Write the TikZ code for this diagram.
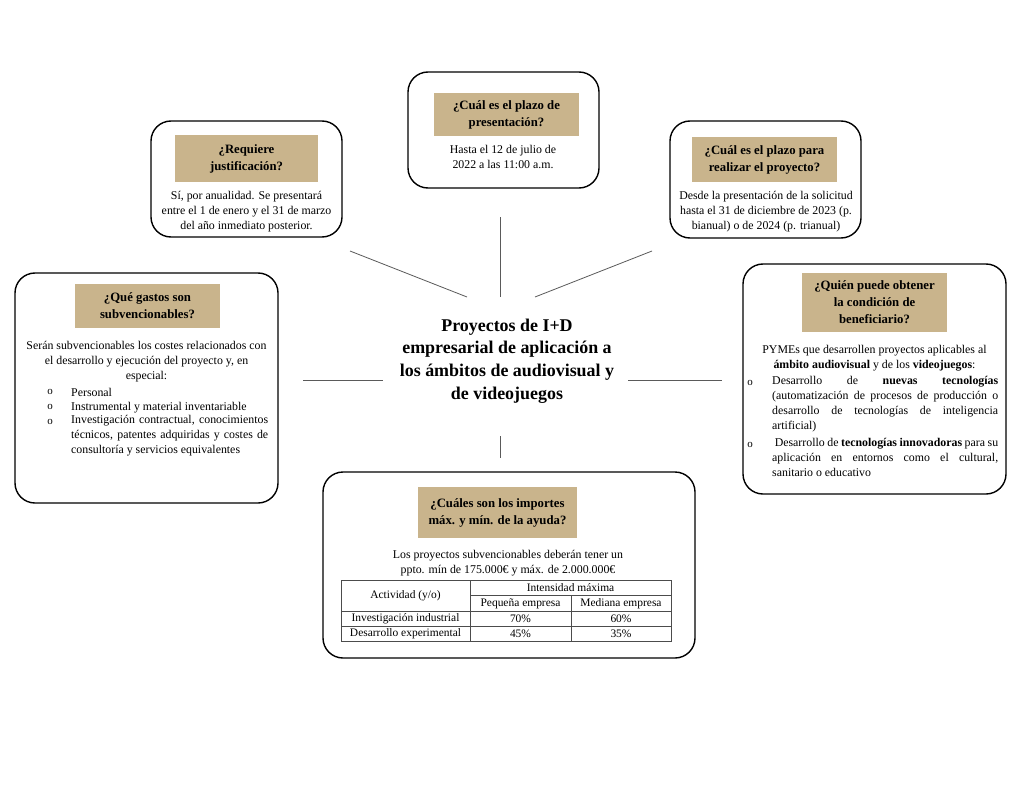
\documentclass[tikz,border=0pt]{standalone}
\usepackage{fontspec}
\setmainfont{Liberation Serif}
\definecolor{tan}{RGB}{201,180,140}
\definecolor{linegray}{RGB}{90,90,90}
\newcommand{\jline}[2]{\makebox[#1][s]{#2}}
\tikzset{
  box/.style={draw=black, line width=1.4bp, rounded corners=20bp, inner sep=0pt},
  hdr/.style={fill=tan, inner sep=0pt, align=center, font=\fontsize{12.8}{17}\selectfont\bfseries},
  body/.style={inner sep=0pt, font=\fontsize{11.9}{15.2}\selectfont},
  jbody/.style={body, anchor=north west, align=left},
  tbl/.style={inner sep=0pt, font=\fontsize{11.5}{14}\selectfont},
  bul/.style={inner sep=0pt, font=\fontsize{11}{12}\selectfont},
  conn/.style={draw=linegray, line width=0.8bp},
  tline/.style={draw=black!70, line width=0.6bp},
}
\begin{document}
\begin{tikzpicture}[x=1bp,y=-1bp]
\useasboundingbox (0,0) rectangle (1024,791);
\fill[white] (0,0) rectangle (1024,791);

% ---- Box 1: Requiere justificación
\node[box, minimum width=191bp, minimum height=116bp] (b1) at (246.5,179) {};
\node[hdr, minimum width=143bp, minimum height=47bp] (h1) at (246.5,158.5) {¿Requiere\\justificación?};
\node[body, align=center] (t1) at (246.5,211.5) {Sí, por anualidad. Se presentará\\entre el 1 de enero y el 31 de marzo\\del año inmediato posterior.};

% ---- Box 2: plazo de presentación
\node[box, minimum width=191bp, minimum height=116bp] (b2) at (503.5,130) {};
\node[hdr, minimum width=145bp, minimum height=43bp] (h2) at (506.5,114.5) {¿Cuál es el plazo de\\presentación?};
\node[body, align=center] (t2) at (503,157) {Hasta el 12 de julio de\\2022 a las 11:00 a.m.};

% ---- Box 3: plazo para realizar
\node[box, minimum width=191bp, minimum height=117bp] (b3) at (765.5,179.5) {};
\node[hdr, minimum width=145bp, minimum height=45bp] (h3) at (764.5,159.5) {¿Cuál es el plazo para\\realizar el proyecto?};
\node[body, align=center] (t3) at (766,211.5) {Desde la presentación de la solicitud\\hasta el 31 de diciembre de 2023 (p.\\bianual) o de 2024 (p. trianual)};

% ---- Box 4: Qué gastos
\node[box, minimum width=263bp, minimum height=230bp] (b4) at (146.5,388) {};
\node[hdr, minimum width=145bp, minimum height=44bp] (h4) at (147.5,306) {¿Qué gastos son\\subvencionables?};
\node[body, align=center] (t4) at (146.5,361.5) {Serán subvencionables los costes relacionados con\\el desarrollo y ejecución del proyecto y, en\\especial:};
\node[bul] (o41) at (50,392) {o};
\node[bul] (o42) at (50,407) {o};
\node[bul] (o43) at (50,422) {o};
\node[body, anchor=west] (l41) at (71,392.5) {Personal};
\node[body, anchor=west] (l42) at (71,407.5) {Instrumental y material inventariable};
\node[jbody] (l43) at (71,415) {\jline{197bp}{Investigación contractual, conocimientos}\\\jline{197bp}{técnicos, patentes adquiridas y costes de}\\consultoría y servicios equivalentes};

% ---- Box 5: Quién puede obtener
\node[box, minimum width=263bp, minimum height=230bp] (b5) at (874.5,379) {};
\node[hdr, minimum width=145bp, minimum height=59bp] (h5) at (874.5,302.5) {¿Quién puede obtener\\la condición de\\beneficiario?};
\node[body, align=center] (t5) at (874.5,358) {PYMEs que desarrollen proyectos aplicables al\\\textbf{ámbito audiovisual} y de los \textbf{videojuegos}:};
\node[bul] (o51) at (750,383) {o};
\node[bul] (o52) at (750,445) {o};
\node[jbody] (l51) at (772,376) {\jline{226bp}{Desarrollo de \textbf{nuevas tecnologías}}\\\jline{226bp}{(automatización de procesos de producción o}\\\jline{226bp}{desarrollo de tecnologías de inteligencia}\\artificial)};
\node[jbody] (l52) at (772,438) {\jline{226bp}{\ Desarrollo de \textbf{tecnologías innovadoras} para su}\\\jline{226bp}{aplicación en entornos como el cultural,}\\sanitario o educativo};

% ---- Box 6: importes
\node[box, minimum width=372bp, minimum height=186bp] (b6) at (509,565) {};
\node[hdr, minimum width=159bp, minimum height=51bp] (h6) at (497.5,512.5) {¿Cuáles son los importes\\máx. y mín. de la ayuda?};
\node[body, align=center] (t6) at (508,563) {Los proyectos subvencionables deberán tener un\\ppto. mín de 175.000€ y máx. de 2.000.000€};

% table
\coordinate (tnw) at (341,580);
\coordinate (tse) at (671,641);
\draw[tline] (tnw) rectangle (tse);
\draw[tline] (470,580) -- (470,641);
\draw[tline] (571,595) -- (571,641);
\draw[tline] (470,595) -- (671,595);
\draw[tline] (341,611) -- (671,611);
\draw[tline] (341,626) -- (671,626);
\node[tbl] (c11) at (405.5,596) {Actividad (y/o)};
\node[tbl] (c12) at (570.5,588) {Intensidad máxima};
\node[tbl] (c22) at (520.5,603.5) {Pequeña empresa};
\node[tbl] (c23) at (621,603.5) {Mediana empresa};
\node[tbl] (c31) at (405.5,618.5) {Investigación industrial};
\node[tbl] (c32) at (520.5,618.5) {70\%};
\node[tbl] (c33) at (621,618.5) {60\%};
\node[tbl] (c41) at (405.5,633.5) {Desarrollo experimental};
\node[tbl] (c42) at (520.5,633.5) {45\%};
\node[tbl] (c43) at (621,633.5) {35\%};

% ---- Centre title
\node[inner sep=0pt, align=center, font=\fontsize{18}{22.6}\selectfont\bfseries] (center) at (507,361) {Proyectos de I+D\\empresarial de aplicación a\\los ámbitos de audiovisual y\\de videojuegos};

% ---- Connectors
\coordinate (c1a) at (350,251); \coordinate (c1b) at (467,297);
\coordinate (c2a) at (500,217); \coordinate (c2b) at (500,297);
\coordinate (c3a) at (652,251); \coordinate (c3b) at (535,297);
\coordinate (c4a) at (303,380); \coordinate (c4b) at (383,380);
\coordinate (c5a) at (628,380); \coordinate (c5b) at (722,380);
\coordinate (c6a) at (500,436); \coordinate (c6b) at (500,458);
\draw[conn] (c1a) -- (c1b);
\draw[conn] (c2a) -- (c2b);
\draw[conn] (c3a) -- (c3b);
\draw[conn] (c4a) -- (c4b);
\draw[conn] (c5a) -- (c5b);
\draw[conn] (c6a) -- (c6b);
\end{tikzpicture}
\end{document}
